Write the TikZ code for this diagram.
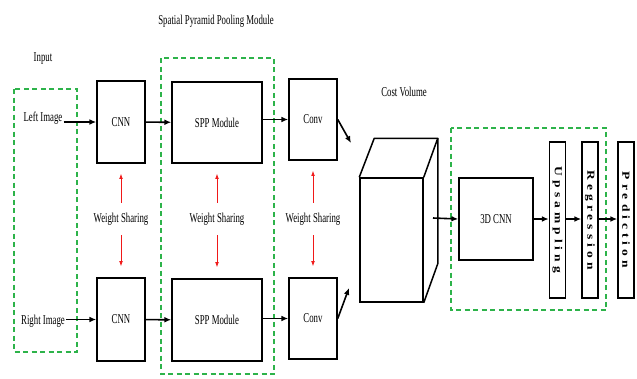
\documentclass[tikz,border=0pt]{standalone}
\usepackage{fontspec}
\setmainfont[FakeStretch=0.65]{Liberation Serif}
\newfontfamily\spacedserif[LetterSpace=30]{Liberation Serif}
\usepackage{tikz}
\usetikzlibrary{arrows.meta,positioning,calc}
\definecolor{GroupGreen}{HTML}{2DB34A}
\definecolor{ShareRed}{HTML}{F01818}
\tikzset{
  blk/.style={draw,line width=1.5pt,inner sep=0pt,font=\fontsize{13.5}{16}\selectfont},
  grp/.style={draw=GroupGreen,line width=1.5pt,dash pattern=on 5pt off 3.5pt},
  flow/.style={-{Latex[length=2.4mm,width=2mm]},line width=1.6pt},
  share/.style={-{Latex[length=1.8mm,width=1.3mm]},ShareRed,line width=0.8pt},
  bar/.style={blk,minimum width=16pt,minimum height=156pt},
  lbl/.style={font=\fontsize{13.5}{16}\selectfont,inner sep=1pt},
  vlbl/.style={rotate=-90,yscale=0.8,font=\spacedserif\bfseries\fontsize{13.5}{16}\selectfont}
}
\begin{document}
\begin{tikzpicture}[x=1pt,y=-1pt]
\useasboundingbox (0,0) rectangle (637,378);
% groups
\draw[grp] (14,89) rectangle (77,352);
\draw[grp] (161,58) rectangle (274,374);
\draw[grp] (451,128) rectangle (606,310);
\node[lbl] (inputlbl) at (43,59) {Input};
\node[lbl] (spplbl) at (216,21) {Spatial Pyramid Pooling Module};
\node[lbl] (left) at (43,118.5) {Left Image};
\node[lbl] (right) at (43,321) {Right Image};
% two branches
\node[blk,minimum width=48pt,minimum height=82pt] (cnnT) at (121,122) {CNN};
\node[blk,minimum width=48pt,minimum height=83pt] (cnnB) at (121,319.5) {CNN};
\node[blk,minimum width=90pt,minimum height=81pt] (sppT) at (217,122.5) {SPP Module};
\node[blk,minimum width=90pt,minimum height=82pt] (sppB) at (217,320) {SPP Module};
\node[blk,minimum width=48pt,minimum height=81pt] (convT) at (313,119.5) {Conv};
\node[blk,minimum width=48pt,minimum height=81pt] (convB) at (313,318.5) {Conv};
\draw[flow] (left.east |- cnnT.west) -- (cnnT.west);
\draw[flow] (right.east |- cnnB.west) -- (cnnB.west);
\draw[flow] (cnnT) -- (sppT);
\draw[flow] (cnnB) -- (sppB);
\draw[flow] (sppT.east |- convT.west) -- (convT.west);
\draw[flow] (sppB.east |- convB.west) -- (convB.west);
% weight sharing
\foreach \col/\x in {cnn/121,spp/217,conv/313}{
  \node[lbl] (ws\col) at (\x,219) {Weight Sharing};
  \draw[share,shorten <=9pt,shorten >=10pt] (ws\col) -- (\col T);
  \draw[share,shorten <=9pt,shorten >=11pt] (ws\col) -- (\col B);
}
% cost volume
\node[blk,minimum width=63pt,minimum height=124pt] (cv) at (391.5,240) {};
\draw[line width=1.5pt,line join=round] (cv.north west) -- ++(15,-39) -- ($(cv.north east)+(14,-39)$)
  -- ($(cv.south east)+(14,-39)$) -- (cv.south east);
\draw[line width=1.5pt] (cv.north east) -- ++(14,-39);
\node[lbl] (cvlbl) at (404,92) {Cost Volume};
\coordinate (cvinT) at (351,143);
\coordinate (cvinB) at (349,288);
\coordinate (cvout) at (433,218);
\draw[flow] (convT.east) -- (cvinT);
\draw[flow] (convB.east) -- (cvinB);
% regression head
\node[blk,minimum width=74pt,minimum height=82pt] (cnn3d) at (496,219) {3D CNN};
\node[bar] (upsample) at (557.5,220) {};
\node[bar] (regress) at (590,220) {};
\node[bar] (predict) at (626,220) {};
\node[vlbl] at (upsample) {Upsampling};
\node[vlbl] at (regress) {Regression};
\node[vlbl] at (predict) {Prediction};
\draw[flow] (cvout) -- (cnn3d.west);
\draw[flow] (cnn3d.east) -- (upsample.west |- cnn3d.east);
\draw[flow] (upsample.east |- cnn3d.east) -- (regress.west |- cnn3d.east);
\draw[flow] (regress.east |- cnn3d.east) -- (predict.west |- cnn3d.east);
\end{tikzpicture}
\end{document}
